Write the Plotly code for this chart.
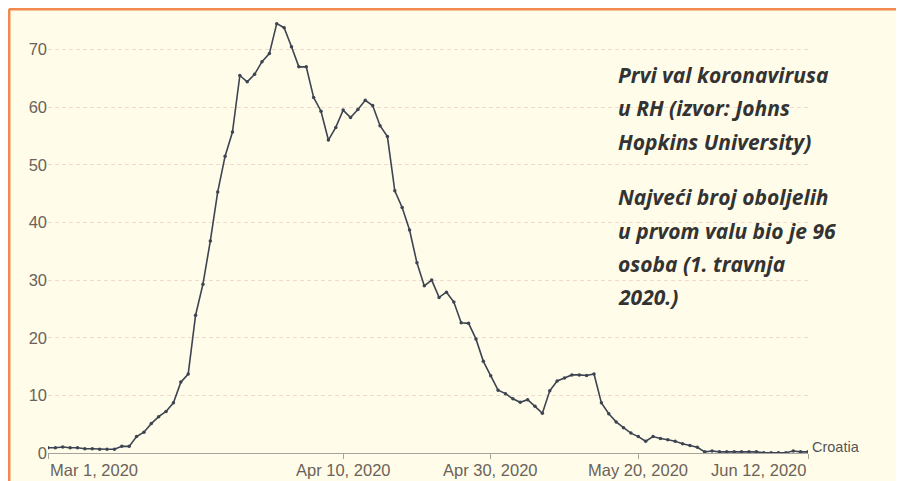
import pandas as pd
import plotly.graph_objects as go

# daily values, Mar 1 - Jun 12 2020
dates = pd.date_range("2020-03-01", "2020-06-12", freq="D")
values = [
    0.9, 0.9, 1.05, 0.9, 0.9, 0.75, 0.75, 0.65, 0.65, 0.65,
    1.15, 1.15, 2.85, 3.6, 5.1, 6.3, 7.2, 8.7, 12.3, 13.7,
    23.9, 29.3, 36.8, 45.3, 51.5, 55.7, 65.5, 64.4, 65.7, 67.9, 69.3,
    74.5, 73.8, 70.5, 67.0, 67.0, 61.7, 59.3, 54.3, 56.5, 59.5,
    58.2, 59.6, 61.2, 60.3, 56.8, 54.9, 45.5, 42.6, 38.7, 33.0,
    29.0, 30.0, 27.0, 27.9, 26.2, 22.6, 22.5, 19.8, 15.9, 13.4,
    10.9, 10.3, 9.4, 8.8, 9.25, 8.1, 6.9,
    10.8, 12.5, 13.0, 13.55, 13.55, 13.45, 13.7, 8.7, 6.8, 5.4,
    4.4, 3.45, 2.85, 2.05, 2.85,
    2.5, 2.3, 2.05, 1.6, 1.3, 1.0, 0.2, 0.35, 0.2, 0.2,
    0.2, 0.2, 0.2, 0.2, 0.05, 0.05, 0.05, 0.05, 0.35, 0.2, 0.2,
]
series_name = "Croatia"

x_ticks = ["2020-03-01", "2020-04-10", "2020-04-30", "2020-05-20", "2020-06-12"]
x_labels = ["Mar 1, 2020", "Apr 10, 2020", "Apr 30, 2020", "May 20, 2020", "Jun 12, 2020"]
y_ticks = [0, 10, 20, 30, 40, 50, 60, 70]

note_lines = [
    "Prvi val koronavirusa",
    "u RH (izvor: Johns",
    "Hopkins University)",
    "",
    "Najveći broj oboljelih",
    "u prvom valu bio je 96",
    "osoba (1. travnja",
    "2020.)",
]

# the page puts the figure 8px in from the top-left corner,
# so the figure is 896x473 and the plot area sits at 48..808 x 15..453 on screen
OFF = 8
W, H = 904 - OFF, 481 - OFF
L, R, T, B = 48 - OFF, 904 - 808, 15 - OFF, 481 - 453
pw, ph = W - L - R, H - T - B


def px(xs):
    # screen x -> paper x
    return (xs - OFF - L) / pw


def py(ys):
    # screen y -> paper y
    return (H - B - (ys - OFF)) / ph


bg = "#fffde9"
ink = "#3d4452"
tick_font = dict(family="Liberation Sans, Arial, sans-serif", size=16.5, color="#6b6259")

fig = go.Figure()
fig.add_trace(go.Scatter(
    x=dates, y=values, mode="lines+markers", name=series_name,
    line=dict(color=ink, width=1.6),
    marker=dict(color=ink, size=3.5),
    hoverinfo="x+y",
))

# x tick labels: first flush left, last flush right
for i, (tv, tl) in enumerate(zip(x_ticks, x_labels)):
    anchor = "left" if i == 0 else ("right" if i == len(x_ticks) - 1 else "center")
    fig.add_annotation(x=tv, y=0, xref="x", yref="paper", text=tl, showarrow=False,
                       xanchor=anchor, yanchor="top", yshift=-6, font=tick_font)

# series label at the end of the line
fig.add_annotation(x=dates[-1], y=values[-1], text=series_name, showarrow=False,
                   xanchor="left", yanchor="middle", xshift=2, yshift=5,
                   font=dict(family="Liberation Sans, Arial, sans-serif", size=14.5, color="#555555"))

# note text block
for i, line in enumerate(note_lines):
    if not line:
        continue
    y_center = 75 + i * 33.3 - (11 if i > 3 else 0)
    fig.add_annotation(x=px(616), y=py(y_center), xref="paper", yref="paper", text=line,
                       showarrow=False, xanchor="left", yanchor="middle",
                       font=dict(family="Open Sans, sans-serif", size=21, color="#333333",
                                 weight="bold", style="italic"))

# orange frame along the top and left edges only (cut off at right and bottom)
frame = dict(color="#f08a4e", width=3)
fig.add_shape(type="line", xref="paper", yref="paper", x0=px(9), x1=px(920), y0=py(9), y1=py(9),
              line=frame, layer="above")
fig.add_shape(type="line", xref="paper", yref="paper", x0=px(9), x1=px(9), y0=py(9), y1=py(500),
              line=frame, layer="above")

fig.update_layout(
    width=W, height=H,
    margin=dict(l=L, r=R, t=T, b=B, autoexpand=False),
    paper_bgcolor=bg, plot_bgcolor=bg,
    showlegend=False,
    xaxis=dict(
        range=[dates[0], dates[-1]],
        tickvals=x_ticks, showticklabels=False,
        ticks="outside", ticklen=5, tickcolor="#a8a39c",
        showline=True, linecolor="#a8a39c", linewidth=1,
        showgrid=False, zeroline=False,
    ),
    yaxis=dict(
        range=[0, 76],
        tickvals=y_ticks, tickfont=tick_font,
        showgrid=True, gridcolor="#eedbcd", griddash="4px,3px", gridwidth=1,
        zeroline=False, showline=False, ticks="",
    ),
)

fig.write_html("out.html")
